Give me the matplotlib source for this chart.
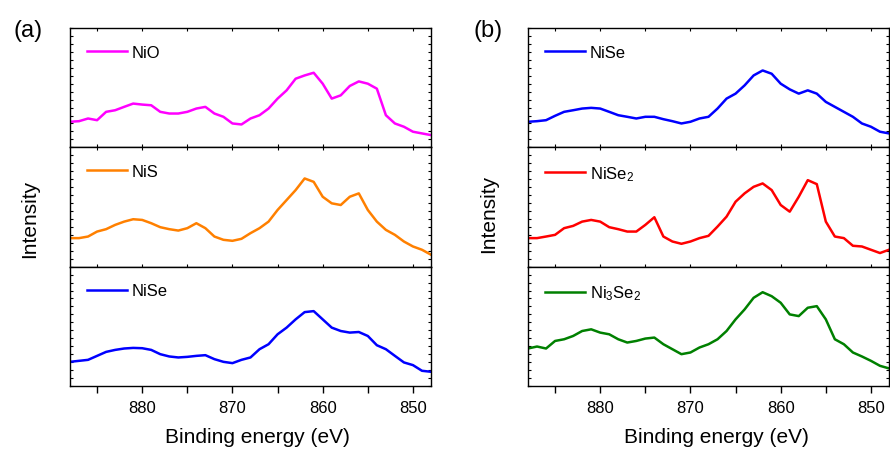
import numpy as np
import matplotlib
matplotlib.use("Agg")
import matplotlib.pyplot as plt
from matplotlib.ticker import MultipleLocator, NullFormatter

plt.rcParams["font.family"] = ["Liberation Sans", "DejaVu Sans"]
plt.rcParams["mathtext.fontset"] = "custom"
plt.rcParams["mathtext.rm"] = "Liberation Sans"
plt.rcParams["mathtext.it"] = "Liberation Sans"
plt.rcParams["mathtext.default"] = "regular"

# binding energy grid (eV), shared by every spectrum
energy = np.arange(888, 847, -1)

# panel (a) spectra, arbitrary intensity units
nio = [25.7, 26.3, 29.0, 27.3, 35.7, 37.3, 40.7, 44.0, 43.0, 42.3,
       35.7, 34.0, 34.0, 35.7, 39.0, 40.7, 34.0, 30.7, 24.0, 23.0,
       29.0, 32.3, 39.0, 49.0, 57.3, 69.0, 72.3, 75.0, 64.0, 49.0,
       52.3, 61.7, 66.3, 64.0, 59.0, 32.3, 24.0, 20.7, 15.7, 14.0, 12.3]
nis = [28.7, 28.7, 30.3, 35.3, 37.7, 42.0, 45.3, 47.7, 47.0, 43.7,
       39.7, 37.7, 36.3, 38.7, 43.7, 38.7, 30.3, 27.0, 26.0, 28.0,
       33.7, 38.7, 45.3, 57.0, 67.0, 77.0, 88.7, 85.3, 70.3, 63.7,
       62.0, 70.3, 73.7, 57.0, 45.3, 37.0, 32.0, 25.3, 20.3, 17.0, 12.0]
nise_a = [24.3, 25.3, 26.3, 30.3, 34.3, 36.3, 37.7, 38.3, 38.0, 36.3,
          32.0, 29.7, 28.7, 29.3, 30.3, 31.0, 27.0, 24.3, 23.0, 26.3,
          28.7, 37.0, 42.0, 52.0, 58.7, 67.0, 74.3, 75.3, 67.0, 58.7,
          55.3, 53.7, 54.3, 50.3, 41.0, 37.0, 30.3, 23.7, 21.0, 15.3, 14.3]

# panel (b) spectra
nise_b = [25.7, 26.3, 27.3, 31.7, 35.7, 37.3, 39.0, 39.7, 39.0, 35.7,
          32.3, 30.7, 29.0, 30.7, 30.7, 28.3, 26.3, 24.0, 25.7, 29.0,
          30.7, 39.0, 49.0, 54.0, 62.3, 72.3, 77.3, 74.0, 64.0, 58.3,
          54.0, 57.3, 54.0, 45.7, 40.7, 35.7, 30.7, 24.0, 20.7, 15.7, 14.0]
nise2 = [28.7, 28.7, 30.3, 32.0, 38.7, 41.0, 45.3, 47.0, 45.3, 39.7,
         37.7, 35.3, 35.3, 42.0, 49.7, 30.3, 25.3, 23.0, 25.3, 28.7,
         31.0, 40.3, 50.3, 65.3, 73.7, 80.3, 83.7, 77.0, 62.0, 55.3,
         70.3, 87.0, 83.0, 45.3, 30.3, 28.7, 21.0, 20.3, 17.0, 13.7, 17.0]
ni3se2 = [37.7, 39.7, 37.7, 45.3, 47.0, 50.3, 55.3, 57.0, 53.7, 52.0,
          47.0, 43.7, 45.3, 47.7, 48.7, 42.0, 37.0, 32.0, 33.7, 38.7,
          42.0, 47.0, 55.3, 67.0, 77.0, 88.7, 94.3, 90.3, 83.7, 72.0,
          70.3, 78.7, 80.3, 67.0, 47.0, 42.0, 33.7, 29.7, 25.3, 20.3, 17.7]

panels = [
    ("(a)", [("NiO", nio, "#FF00FF"), ("NiS", nis, "#FF8000"),
             ("NiSe", nise_a, "#0000FF")]),
    ("(b)", [("NiSe", nise_b, "#0000FF"), ("NiSe$_2$", nise2, "#FF0000"),
             ("Ni$_3$Se$_2$", ni3se2, "#008000")]),
]

W, H = 890, 452
fig = plt.figure(figsize=(W / 100, H / 100), dpi=100)

lefts = [70, 528]
width = 361
top, bottom = 29, 387
h = (bottom - top) / 3
# tag x/y, "Intensity" x/y, xlabel x  (pixels)
label_pos = {"(a)": (28, 31, 30, 219, 257), "(b)": (488, 31, 489, 214, 716)}

for (tag, series), left in zip(panels, lefts):
    for i, (name, vals, col) in enumerate(series):
        ax = fig.add_axes([left / W, 1 - (top + (i + 1) * h) / H,
                           width / W, h / H])
        ax.plot(energy, vals, color=col, lw=1.8, label=name)
        ax.set_xlim(888, 848)
        ax.set_ylim(0, 120)
        ax.xaxis.set_major_locator(MultipleLocator(10))
        ax.xaxis.set_minor_locator(MultipleLocator(5))
        ax.yaxis.set_major_locator(MultipleLocator(8))
        ax.yaxis.set_major_formatter(NullFormatter())
        ax.tick_params(axis="y", which="both", direction="in", length=2.5,
                       width=0.8, left=True, right=True)
        for s in ax.spines.values():
            s.set_linewidth(1.0)
        if i < 2:
            ax.tick_params(axis="x", which="both", direction="in", length=2.5,
                           width=0.8, top=True, bottom=True,
                           labelbottom=False)
        else:
            ax.tick_params(axis="x", which="both", direction="out", length=5,
                           width=1.0, bottom=True, labelsize=12, pad=5)
        ax.legend(loc="upper left", frameon=False, fontsize=12,
                  handlelength=2.4, handletextpad=0.3, borderaxespad=0.6)

    tx, ty, ix, iy, bx = label_pos[tag]
    fig.text(tx / W, 1 - ty / H, tag, fontsize=17, ha="center", va="center")
    fig.text(ix / W, 1 - iy / H, "Intensity", fontsize=15, rotation=90,
             ha="center", va="center")
    fig.text(bx / W, 1 - 438 / H, "Binding energy (eV)", fontsize=15,
             ha="center", va="center")

fig.savefig("out.png", dpi=100)
